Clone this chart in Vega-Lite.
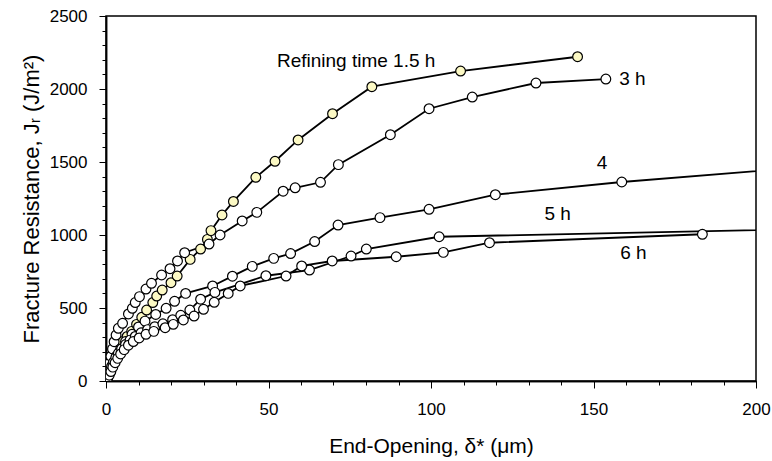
{
  "$schema": "https://vega.github.io/schema/vega-lite/v6.json",
  "width": 650,
  "height": 365,
  "autosize": "none",
  "padding": {"left": 106, "top": 16, "right": 16, "bottom": 80},
  "background": "#ffffff",
  "config": {
    "view": {"stroke": "#000000", "strokeWidth": 1.5},
    "font": "Liberation Sans",
    "axis": {
      "grid": false,
      "domainColor": "#000000",
      "domainWidth": 1.5,
      "tickColor": "#000000",
      "tickWidth": 1,
      "labelColor": "#000000",
      "titleColor": "#000000",
      "labelFont": "Liberation Sans",
      "titleFont": "Liberation Sans",
      "titleFontWeight": "normal"
    }
  },
  "datasets": {
    "curves": [
      {"series": "1.5 h", "opening": 0.2, "J": 8},
      {"series": "1.5 h", "opening": 0.6, "J": 30},
      {"series": "1.5 h", "opening": 1.1, "J": 60},
      {"series": "1.5 h", "opening": 1.7, "J": 100},
      {"series": "1.5 h", "opening": 2.4, "J": 140},
      {"series": "1.5 h", "opening": 3.2, "J": 185},
      {"series": "1.5 h", "opening": 4.2, "J": 230},
      {"series": "1.5 h", "opening": 5.2, "J": 270},
      {"series": "1.5 h", "opening": 6.5, "J": 305},
      {"series": "1.5 h", "opening": 7.9, "J": 340},
      {"series": "1.5 h", "opening": 9.4, "J": 388},
      {"series": "1.5 h", "opening": 11, "J": 436},
      {"series": "1.5 h", "opening": 12.5, "J": 486},
      {"series": "1.5 h", "opening": 14.4, "J": 537},
      {"series": "1.5 h", "opening": 15.6, "J": 582},
      {"series": "1.5 h", "opening": 17.3, "J": 623},
      {"series": "1.5 h", "opening": 20, "J": 673},
      {"series": "1.5 h", "opening": 21.9, "J": 719},
      {"series": "1.5 h", "opening": 25.9, "J": 833},
      {"series": "1.5 h", "opening": 29.1, "J": 904},
      {"series": "1.5 h", "opening": 31.2, "J": 970},
      {"series": "1.5 h", "opening": 32.3, "J": 1030},
      {"series": "1.5 h", "opening": 35.7, "J": 1137},
      {"series": "1.5 h", "opening": 39.2, "J": 1230},
      {"series": "1.5 h", "opening": 46.1, "J": 1395},
      {"series": "1.5 h", "opening": 52, "J": 1505},
      {"series": "1.5 h", "opening": 59.1, "J": 1651},
      {"series": "1.5 h", "opening": 69.7, "J": 1831},
      {"series": "1.5 h", "opening": 81.8, "J": 2016},
      {"series": "1.5 h", "opening": 109.1, "J": 2123},
      {"series": "1.5 h", "opening": 145.1, "J": 2221},
      {"series": "3 h", "opening": 0.1, "J": 5},
      {"series": "3 h", "opening": 0.3, "J": 30},
      {"series": "3 h", "opening": 0.6, "J": 70},
      {"series": "3 h", "opening": 1, "J": 120},
      {"series": "3 h", "opening": 1.5, "J": 170},
      {"series": "3 h", "opening": 2, "J": 220},
      {"series": "3 h", "opening": 2.5, "J": 269},
      {"series": "3 h", "opening": 3.1, "J": 315},
      {"series": "3 h", "opening": 3.8, "J": 361},
      {"series": "3 h", "opening": 5.1, "J": 395},
      {"series": "3 h", "opening": 6.9, "J": 459},
      {"series": "3 h", "opening": 8.1, "J": 498},
      {"series": "3 h", "opening": 9, "J": 537},
      {"series": "3 h", "opening": 10.3, "J": 578},
      {"series": "3 h", "opening": 12.3, "J": 630},
      {"series": "3 h", "opening": 14, "J": 669},
      {"series": "3 h", "opening": 17.1, "J": 726},
      {"series": "3 h", "opening": 19.7, "J": 769},
      {"series": "3 h", "opening": 22, "J": 822},
      {"series": "3 h", "opening": 24.2, "J": 879},
      {"series": "3 h", "opening": 31.7, "J": 938},
      {"series": "3 h", "opening": 35.1, "J": 1000},
      {"series": "3 h", "opening": 41.9, "J": 1096},
      {"series": "3 h", "opening": 46.4, "J": 1155},
      {"series": "3 h", "opening": 54.5, "J": 1300},
      {"series": "3 h", "opening": 58.2, "J": 1323},
      {"series": "3 h", "opening": 66, "J": 1361},
      {"series": "3 h", "opening": 71.5, "J": 1482},
      {"series": "3 h", "opening": 87.5, "J": 1687},
      {"series": "3 h", "opening": 99.4, "J": 1865},
      {"series": "3 h", "opening": 112.7, "J": 1945},
      {"series": "3 h", "opening": 132.3, "J": 2041},
      {"series": "3 h", "opening": 153.8, "J": 2068},
      {"series": "4 h", "opening": 0.2, "J": 8},
      {"series": "4 h", "opening": 0.7, "J": 35},
      {"series": "4 h", "opening": 1.4, "J": 75},
      {"series": "4 h", "opening": 2.2, "J": 120},
      {"series": "4 h", "opening": 3.2, "J": 170},
      {"series": "4 h", "opening": 4.5, "J": 220},
      {"series": "4 h", "opening": 6, "J": 270},
      {"series": "4 h", "opening": 8, "J": 320},
      {"series": "4 h", "opening": 10, "J": 370},
      {"series": "4 h", "opening": 12, "J": 410},
      {"series": "4 h", "opening": 15.3, "J": 456},
      {"series": "4 h", "opening": 18.5, "J": 498},
      {"series": "4 h", "opening": 21.1, "J": 546},
      {"series": "4 h", "opening": 24.5, "J": 600},
      {"series": "4 h", "opening": 32.8, "J": 651},
      {"series": "4 h", "opening": 38.9, "J": 718},
      {"series": "4 h", "opening": 45, "J": 785},
      {"series": "4 h", "opening": 51.6, "J": 840},
      {"series": "4 h", "opening": 56.8, "J": 873},
      {"series": "4 h", "opening": 64.2, "J": 955},
      {"series": "4 h", "opening": 71.4, "J": 1068},
      {"series": "4 h", "opening": 84.3, "J": 1119},
      {"series": "4 h", "opening": 99.4, "J": 1176},
      {"series": "4 h", "opening": 119.8, "J": 1276},
      {"series": "4 h", "opening": 158.7, "J": 1363},
      {"series": "4 h", "opening": 230, "J": 1492},
      {"series": "5 h", "opening": 0.1, "J": 3},
      {"series": "5 h", "opening": 0.4, "J": 20},
      {"series": "5 h", "opening": 0.8, "J": 45},
      {"series": "5 h", "opening": 1.2, "J": 70},
      {"series": "5 h", "opening": 1.7, "J": 100},
      {"series": "5 h", "opening": 2.3, "J": 130},
      {"series": "5 h", "opening": 3, "J": 160},
      {"series": "5 h", "opening": 3.8, "J": 190},
      {"series": "5 h", "opening": 4.8, "J": 220},
      {"series": "5 h", "opening": 6, "J": 250},
      {"series": "5 h", "opening": 7.4, "J": 280},
      {"series": "5 h", "opening": 9, "J": 305},
      {"series": "5 h", "opening": 10.8, "J": 330},
      {"series": "5 h", "opening": 12.8, "J": 352},
      {"series": "5 h", "opening": 15, "J": 372},
      {"series": "5 h", "opening": 17.5, "J": 392},
      {"series": "5 h", "opening": 20.5, "J": 420},
      {"series": "5 h", "opening": 23, "J": 450},
      {"series": "5 h", "opening": 25.8, "J": 486},
      {"series": "5 h", "opening": 29.1, "J": 560},
      {"series": "5 h", "opening": 33.5, "J": 607},
      {"series": "5 h", "opening": 49.2, "J": 721},
      {"series": "5 h", "opening": 62.6, "J": 760},
      {"series": "5 h", "opening": 75.4, "J": 856},
      {"series": "5 h", "opening": 80.1, "J": 904},
      {"series": "5 h", "opening": 102.5, "J": 988},
      {"series": "5 h", "opening": 230, "J": 1048},
      {"series": "6 h", "opening": 0.1, "J": 2},
      {"series": "6 h", "opening": 0.5, "J": 18},
      {"series": "6 h", "opening": 1, "J": 40},
      {"series": "6 h", "opening": 1.5, "J": 65},
      {"series": "6 h", "opening": 2.1, "J": 95},
      {"series": "6 h", "opening": 2.8, "J": 125},
      {"series": "6 h", "opening": 3.6, "J": 155},
      {"series": "6 h", "opening": 4.5, "J": 185},
      {"series": "6 h", "opening": 5.6, "J": 215},
      {"series": "6 h", "opening": 6.9, "J": 245},
      {"series": "6 h", "opening": 8.4, "J": 270},
      {"series": "6 h", "opening": 10.2, "J": 295},
      {"series": "6 h", "opening": 12.3, "J": 320},
      {"series": "6 h", "opening": 14.7, "J": 340},
      {"series": "6 h", "opening": 18.2, "J": 365},
      {"series": "6 h", "opening": 20.7, "J": 388},
      {"series": "6 h", "opening": 23.8, "J": 418},
      {"series": "6 h", "opening": 27.1, "J": 445},
      {"series": "6 h", "opening": 30, "J": 491},
      {"series": "6 h", "opening": 33.3, "J": 539},
      {"series": "6 h", "opening": 37.6, "J": 600},
      {"series": "6 h", "opening": 41.3, "J": 651},
      {"series": "6 h", "opening": 55.4, "J": 719},
      {"series": "6 h", "opening": 60.2, "J": 788},
      {"series": "6 h", "opening": 69.6, "J": 822},
      {"series": "6 h", "opening": 89.3, "J": 851},
      {"series": "6 h", "opening": 103.8, "J": 881},
      {"series": "6 h", "opening": 118, "J": 947},
      {"series": "6 h", "opening": 183.5, "J": 1005}
    ],
    "labels": [
      {"label": "Refining time 1.5 h", "opening": 52.6, "J": 2192},
      {"label": "3 h", "opening": 157.9, "J": 2068},
      {"label": "4", "opening": 151, "J": 1495},
      {"label": "5 h", "opening": 134.9, "J": 1142},
      {"label": "6 h", "opening": 158.2, "J": 875}
    ]
  },
  "layer": [
    {
      "data": {"name": "curves"},
      "mark": {"type": "line", "color": "#000000", "strokeWidth": 1.8, "clip": true},
      "encoding": {
        "x": {
          "field": "opening", "type": "quantitative",
          "scale": {"domain": [0, 200], "nice": false, "zero": false},
          "axis": {"orient": "bottom", "values": [0,10,20,30,40,50,60,70,80,90,100,110,120,130,140,150,160,170,180,190,200], "labels": false, "tickSize": 4, "title": null}
        },
        "y": {
          "field": "J", "type": "quantitative",
          "scale": {"domain": [0, 2500], "nice": false},
          "axis": {"orient": "left", "values": [0,100,200,300,400,500,600,700,800,900,1000,1100,1200,1300,1400,1500,1600,1700,1800,1900,2000,2100,2200,2300,2400,2500], "labels": false, "tickSize": 4, "title": null}
        },
        "detail": {"field": "series", "type": "nominal"}
      }
    },
    {
      "data": {"name": "curves"},
      "mark": {"type": "point", "shape": "circle", "filled": true, "size": 95, "stroke": "#000000", "strokeWidth": 1.2, "opacity": 1, "clip": true},
      "encoding": {
        "x": {
          "field": "opening", "type": "quantitative",
          "axis": {"orient": "bottom", "values": [0, 50, 100, 150, 200], "tickSize": 7, "labelFontSize": 17, "labelPadding": 13, "labelFlush": false, "title": "End-Opening, δ* (μm)", "titleFontSize": 21, "titlePadding": 18}
        },
        "y": {
          "field": "J", "type": "quantitative",
          "axis": {"orient": "left", "values": [0, 500, 1000, 1500, 2000, 2500], "format": "d", "tickSize": 7, "labelFontSize": 17, "labelPadding": 12, "title": "Fracture Resistance, Jᵣ (J/m²)", "titleFontSize": 22, "titlePadding": 6}
        },
        "fill": {
          "field": "series", "type": "nominal",
          "scale": {"domain": ["1.5 h", "3 h", "4 h", "5 h", "6 h"], "range": ["#FCF9C4", "#FFFFFF", "#FFFFFF", "#FFFFFF", "#FFFFFF"]},
          "legend": null
        }
      }
    },
    {
      "data": {"name": "labels"},
      "mark": {"type": "text", "fontSize": 19, "align": "left", "baseline": "middle", "color": "#000000", "font": "Liberation Sans"},
      "encoding": {
        "x": {"field": "opening", "type": "quantitative", "axis": null},
        "y": {"field": "J", "type": "quantitative", "axis": null},
        "text": {"field": "label", "type": "nominal"}
      }
    }
  ],
  "resolve": {"axis": {"x": "independent", "y": "independent"}}
}
